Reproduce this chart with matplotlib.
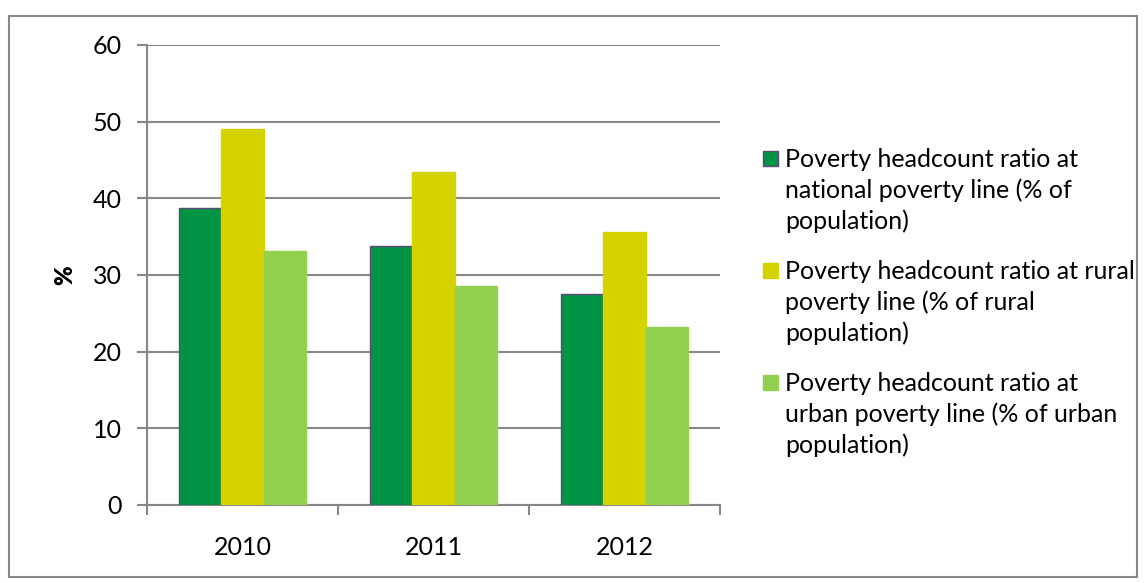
import matplotlib
matplotlib.use("Agg")
import matplotlib.pyplot as plt
from matplotlib.patches import Rectangle
import numpy as np

years = ["2010", "2011", "2012"]
national = [38.7, 33.8, 27.5]
rural = [49.0, 43.4, 35.6]
urban = [33.1, 28.6, 23.2]
series_labels = [
    "Poverty headcount ratio at\nnational poverty line (% of\npopulation)",
    "Poverty headcount ratio at rural\npoverty line (% of rural\npopulation)",
    "Poverty headcount ratio at\nurban poverty line (% of urban\npopulation)",
]
yticks = [0, 10, 20, 30, 40, 50, 60]

colors = ["#009444", "#D6D200", "#92D050"]
edges = ["#5F497A", "#D6D200", "#92D050"]

plt.rcParams['font.family'] = ['Lato', 'DejaVu Sans']
GRAY = "#878787"
FS = 18

fig = plt.figure(figsize=(11.45, 5.83), dpi=100)
ax = fig.add_axes([147/1145, 1 - 505/583, (720-147)/1145, (505-45)/583])

x = np.arange(len(years))
w = 0.223
for i, (vals, c, e) in enumerate(zip([national, rural, urban], colors, edges)):
    ax.bar(x + (i - 1) * w, vals, width=w, color=c, edgecolor=e, linewidth=1.0, zorder=3)

ax.set_xlim(-0.5, 2.5)
ax.set_ylim(0, 60)
ax.set_yticks(yticks)
ax.set_yticklabels([str(t) for t in yticks], fontsize=FS)
ax.yaxis.grid(True, color=GRAY, linewidth=1.5, zorder=0)
ax.set_axisbelow(True)

ax.set_xticks(x)
ax.set_xticklabels(years, fontsize=FS)
ax.tick_params(axis='x', which='major', length=0, pad=22)
ax.set_xticks([-0.5, 0.5, 1.5, 2.5], minor=True)
ax.tick_params(axis='x', which='minor', length=7, width=1.5, color=GRAY, direction='out')
ax.tick_params(axis='y', length=7, width=1.5, color=GRAY, direction='out', pad=11)

for s in ['top', 'right']:
    ax.spines[s].set_visible(False)
for s in ['left', 'bottom']:
    ax.spines[s].set_color(GRAY)
    ax.spines[s].set_linewidth(1.5)

ax.set_ylabel("%", fontsize=FS - 1, fontweight='heavy', labelpad=12)

# Legend drawn manually
legend_tops = [151, 263, 375]
for lab, c, e, ty in zip(series_labels, colors, edges, legend_tops):
    fig.patches.append(Rectangle((763/1145, 1 - (ty + 15)/583), 15/1145, 15/583,
                                 transform=fig.transFigure, facecolor=c, edgecolor=e,
                                 linewidth=1.0))
    fig.text(785/1145, 1 - (ty - 3)/583, lab, fontsize=FS, va='top', ha='left',
             linespacing=1.38, color='black')

# Outer border
fig.patches.append(Rectangle((9/1145, 1 - 577/583), (1137-9)/1145, (577-16)/583,
                             transform=fig.transFigure, fill=False, edgecolor=GRAY,
                             linewidth=1.5))

fig.savefig("out.png", dpi=100)
